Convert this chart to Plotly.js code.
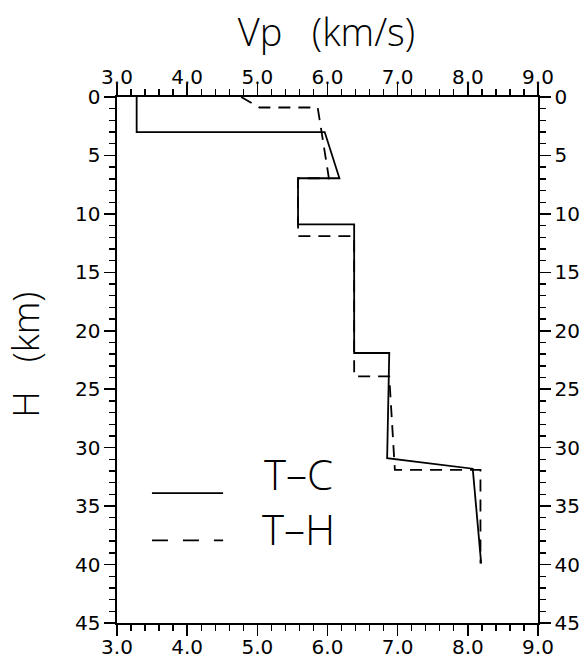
<!DOCTYPE html>
<html>
<head>
<meta charset="utf-8">
<script src="https://cdn.plot.ly/plotly-3.0.1.min.js"></script>
<style>html,body{margin:0;padding:0;background:#fff;}#chart{width:585px;height:659px;}</style>
</head>
<body>
<div id="chart"></div>
<script>
// T-C model (solid): velocity (km/s) vs depth (km)
const tcVp    = [3.28, 3.28, 5.96, 6.17, 5.58, 5.58, 6.38, 6.38, 6.88, 6.85, 8.07, 8.19];
const tcDepth = [0,    3.0,  3.0,  6.95, 6.95, 10.9, 10.9, 21.9, 21.9, 30.9, 31.8, 39.9];
// T-H model (dashed)
const thVp    = [4.77, 5.03, 5.86, 6.02, 5.58, 5.58, 6.38, 6.38, 6.88, 6.96, 8.18, 8.18];
const thDepth = [0,    0.9,  0.9,  6.95, 6.95, 11.9, 11.9, 23.9, 23.9, 31.9, 31.9, 39.9];

const seriesNames = ['T–C', 'T–H'];
const xRange = [3, 9];
const yRange = [45, 0];

const FONT = 'DejaVu Sans, Liberation Sans, Arial, sans-serif';
const TFONT = 'Open Sans, DejaVu Sans, sans-serif';
const tickFont = {family: FONT, size: 20, color: '#000'};

function axisBase() {
  return {
    showgrid: false, zeroline: false, showline: true,
    linecolor: '#000', linewidth: 1.6,
    ticks: 'outside', ticklen: 11, tickwidth: 1.6, tickcolor: '#000',
    tickfont: tickFont, fixedrange: true
  };
}
function minorX() { return {dtick: 0.2, tick0: 3, ticks: 'outside', ticklen: 6, tickwidth: 1.4, tickcolor: '#000'}; }
function minorY() { return {dtick: 1, tick0: 0, ticks: 'outside', ticklen: 6, tickwidth: 1.4, tickcolor: '#000'}; }

const xa = Object.assign(axisBase(), {
  range: xRange, dtick: 1, tick0: 3, tickformat: '.1f', ticklabelstandoff: -6, minor: minorX()
});
const xa2 = Object.assign(axisBase(), {
  range: xRange, dtick: 1, tick0: 3, tickformat: '.1f', overlaying: 'x', side: 'top',
  ticklabelstandoff: -8, minor: minorX()
});
const ya = Object.assign(axisBase(), {
  range: yRange, dtick: 5, tick0: 0, minor: minorY()
});
const ya2 = Object.assign(axisBase(), {
  range: yRange, dtick: 5, tick0: 0, overlaying: 'y', side: 'right', minor: minorY()
});

const traces = [
  {x: tcVp, y: tcDepth, type: 'scatter', mode: 'lines', name: seriesNames[0],
   line: {color: '#000', width: 1.8}, showlegend: false, hoverinfo: 'skip'},
  {x: thVp, y: thDepth, type: 'scatter', mode: 'lines', name: seriesNames[1],
   line: {color: '#000', width: 1.8, dash: '12px,8px'}, showlegend: false, hoverinfo: 'skip'},
  {x: [xRange[0]], y: [yRange[1]], xaxis: 'x2', yaxis: 'y2', type: 'scatter', mode: 'markers',
   marker: {opacity: 0}, showlegend: false, hoverinfo: 'skip'}
];

const layout = {
  width: 585, height: 659,
  margin: {l: 117, r: 47, t: 97, b: 36, pad: 0},
  paper_bgcolor: '#fff', plot_bgcolor: '#fff',
  showlegend: false,
  title: {text: 'Vp   (km/s)', font: {family: TFONT, size: 38, weight: 300, color: '#000'},
          x: 0.558, xref: 'container', xanchor: 'center', y: 0.95, yref: 'container', yanchor: 'middle'},
  xaxis: xa, xaxis2: xa2, yaxis: ya, yaxis2: ya2,
  shapes: [
    {type: 'line', xref: 'paper', yref: 'paper', x0: 0.083, x1: 0.252, y0: 0.247, y1: 0.247,
     line: {color: '#000', width: 1.8}},
    {type: 'line', xref: 'paper', yref: 'paper', x0: 0.083, x1: 0.252, y0: 0.157, y1: 0.157,
     line: {color: '#000', width: 1.8, dash: '16px,15px'}}
  ],
  annotations: [
    {text: 'H   (km)', xref: 'paper', yref: 'paper', x: 0, y: 0.51, xshift: -92,
     xanchor: 'center', yanchor: 'middle', textangle: -90, showarrow: false,
     font: {family: TFONT, size: 37, weight: 300, color: '#000'}},
    {text: seriesNames.join('<br>'), xref: 'paper', yref: 'paper', x: 0.432, y: 0.232,
     xanchor: 'center', yanchor: 'middle', align: 'center', showarrow: false,
     font: {family: TFONT, size: 42, weight: 300, color: '#000'}}
  ]
};

Plotly.newPlot('chart', traces, layout, {displayModeBar: false, staticPlot: true});
</script>
</body>
</html>
